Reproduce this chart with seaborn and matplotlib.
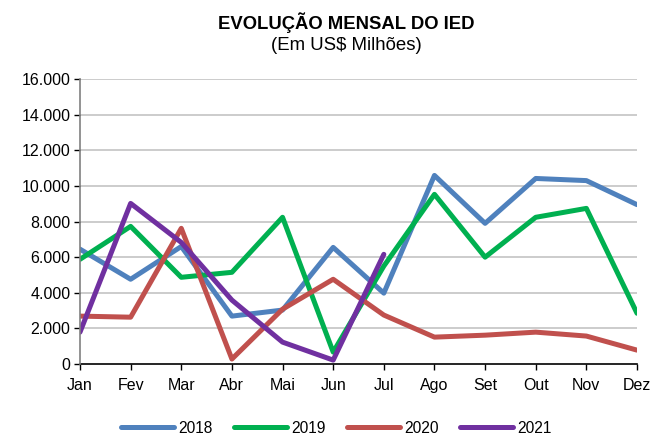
import numpy as np
import pandas as pd
import matplotlib
matplotlib.use("Agg")
import matplotlib.pyplot as plt
import seaborn as sns

months = ["Jan", "Fev", "Mar", "Abr", "Mai", "Jun", "Jul", "Ago", "Set", "Out", "Nov", "Dez"]
years = ["2018", "2019", "2020", "2021"]
v2018 = [6450, 4760, 6600, 2690, 3030, 6550, 3980, 10590, 7900, 10420, 10300, 8950]
v2019 = [5880, 7730, 4870, 5150, 8240, 670, 5500, 9530, 6000, 8240, 8740, 2850]
v2020 = [2690, 2630, 7620, 280, 3080, 4760, 2750, 1510, 1620, 1790, 1570, 780]
v2021 = [1790, 9020, 6830, 3590, 1230, 220, 6160]
colors = ["#4F81BD", "#00B050", "#C0504D", "#7030A0"]
yticks = [0, 2000, 4000, 6000, 8000, 10000, 12000, 14000, 16000]

series = [v2018, v2019, v2020, v2021]
rows = []
for y, vals in zip(years, series):
    for i, v in enumerate(vals):
        rows.append({"idx": i, "valor": v, "ano": y})
df = pd.DataFrame(rows)

sns.set_style("white")
plt.rcParams["font.family"] = ["Liberation Sans", "DejaVu Sans"]
plt.rcParams["text.color"] = "black"
plt.rcParams["legend.labelcolor"] = "black"

fig = plt.figure(figsize=(6.53, 4.37), dpi=100)
ax = fig.add_axes([0.1225, 0.167, 0.853, 0.652])

for yt in yticks[1:]:
    ax.axhline(yt, color="#C8C8C8", lw=1.3, zorder=0)

sns.lineplot(data=df, x="idx", y="valor", hue="ano", palette=colors,
             linewidth=3.6, ax=ax, legend=True, sort=False)

ax.set_xlim(0, len(months) - 1)
ax.set_ylim(0, 16000)
ax.set_xticks(range(len(months)))
ax.set_xticklabels(months)
ax.set_yticks(yticks)
ax.set_yticklabels([f"{t:,}".replace(",", ".") for t in yticks])
ax.set_xlabel("")
ax.set_ylabel("")
ax.tick_params(axis="both", labelsize=11.5, length=4, width=1, direction="out",
               colors="#000000", bottom=True, left=True)
ax.tick_params(axis="x", pad=6)
ax.tick_params(axis="y", pad=3)
for s in ["top", "right"]:
    ax.spines[s].set_visible(False)
ax.spines["left"].set_color("#808080")
ax.spines["left"].set_linewidth(1.2)
ax.spines["bottom"].set_color("#000000")
ax.spines["bottom"].set_linewidth(1.2)
ax.spines["left"].set_zorder(5)

handles, labels = ax.get_legend_handles_labels()
ax.get_legend().remove()
fig.legend(handles, labels, loc="center", bbox_to_anchor=(0.515, 0.02), ncol=4,
           frameon=False, fontsize=11.2, handlelength=3.4, columnspacing=1.4,
           handletextpad=0.25, borderpad=0.1)

fig.text(0.530, 0.949, "EVOLUÇÃO MENSAL DO IED", ha="center", va="center",
         fontsize=13.3, fontweight="bold", color="black")
fig.text(0.530, 0.897, "(Em US$ Milhões)", ha="center", va="center", fontsize=13.4,
         color="black")

fig.savefig("out.png", dpi=100)
